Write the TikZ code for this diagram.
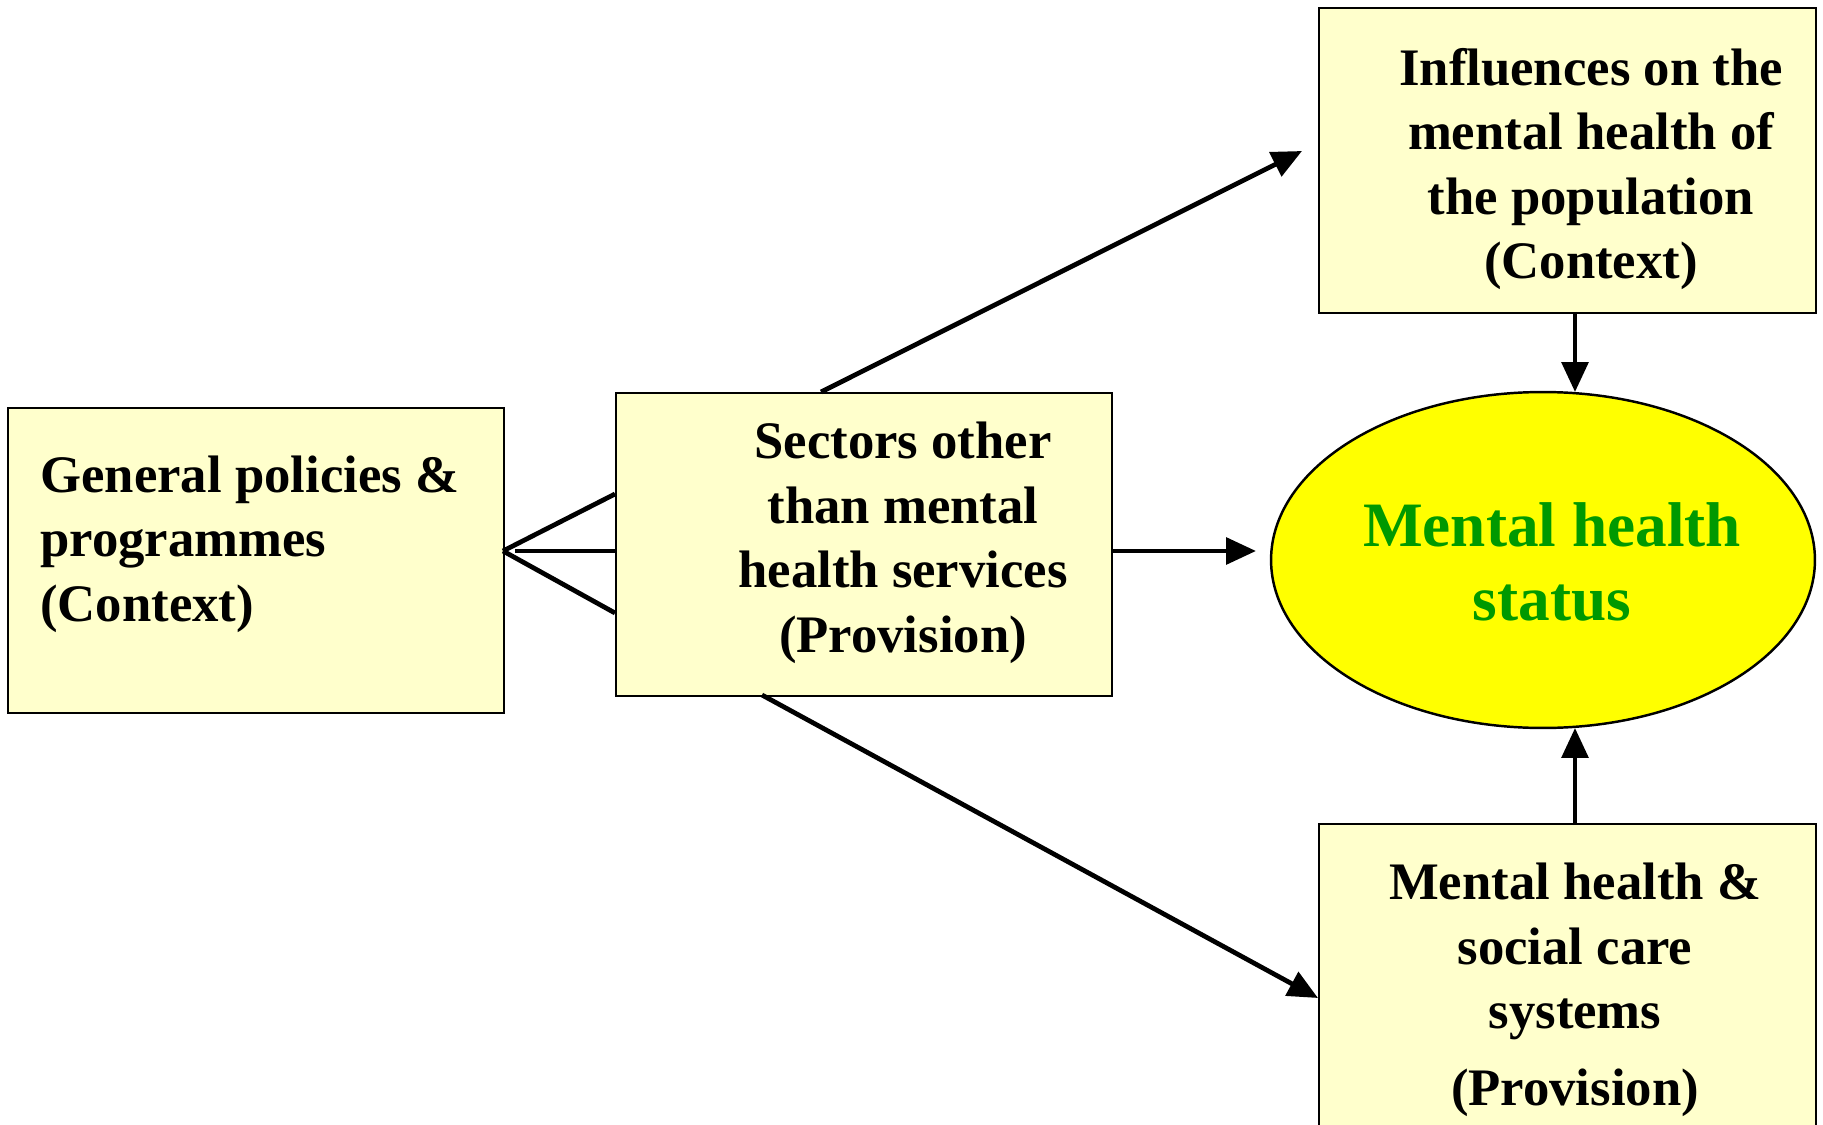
\documentclass[tikz,border=0pt]{standalone}
\usepackage{fontspec}
\setmainfont{Liberation Serif}
\usetikzlibrary{arrows.meta,shapes.geometric}
\definecolor{boxfill}{HTML}{FFFFCC}
\definecolor{ellfill}{HTML}{FFFF00}
\definecolor{mhgreen}{HTML}{009900}
\begin{document}
\begin{tikzpicture}[x=0.02cm,y=-0.02cm,
  box/.style={draw,line width=1.4pt,fill=boxfill,rectangle,anchor=north west,inner sep=0pt},
  txt/.style={font=\fontsize{30}{36.7}\selectfont\bfseries,inner sep=0pt},
  conn/.style={line width=2.7pt},
  arr/.style={line width=2.7pt,-{Triangle[length=17pt,width=15pt]}}
]
\clip (0,0) rectangle (1823,1125);
\useasboundingbox (0,0) rectangle (1823,1125);
\fill[white] (0,0) rectangle (1823,1125);

% boxes
\node[box,minimum width=9.92cm,minimum height=6.1cm] (gp) at (7,407) {};
\node[box,minimum width=9.92cm,minimum height=6.06cm] (sec) at (615,392) {};
\node[box,minimum width=9.94cm,minimum height=6.1cm] (inf) at (1318,7) {};
\node[box,minimum width=9.94cm,minimum height=6.8cm] (mhs) at (1318,823) {};
\node[draw,line width=1.4pt,fill=ellfill,ellipse,minimum width=10.88cm,minimum height=6.72cm,inner sep=0pt] (ell) at (1543,560) {};

% texts
\node[txt,align=left,anchor=west] (gpt) at (40,544) {General policies \&\\programmes\\(Context)};
\node[txt,align=center] (sect) at (903,543) {Sectors other\\than mental\\health services\\(Provision)};
\node[txt,align=center] (inft) at (1591,169) {Influences on the\\mental health of\\the population\\(Context)};
\node[txt,align=center] (mhst) at (1575,990) {Mental health \&\\social care\\systems\\[7pt](Provision)};
\node[font=\fontsize{36}{42}\selectfont\bfseries,text=mhgreen,align=center,inner sep=0pt] (ellt) at (1552,562) {Mental health\\status};

% connector points
\coordinate (fork) at (503,551);
\coordinate (forkm) at (515,551);
\coordinate (s1) at (615,494);
\coordinate (s2) at (615,551);
\coordinate (s3) at (615,613);
\coordinate (secT) at (821,392);
\coordinate (secB) at (762,695);
\coordinate (secR) at (1111,551);
\coordinate (infTip) at (1302,151);
\coordinate (mhsTip) at (1318,998);
\coordinate (ellL) at (1256,551);
\coordinate (infB) at (1575,312);
\coordinate (ellT) at (1575,392);
\coordinate (mhsT) at (1575,825);
\coordinate (ellB) at (1575,728);

\draw[conn] (fork) -- (s1);
\draw[conn] (forkm) -- (s2);
\draw[conn] (fork) -- (s3);
\draw[arr] (secT) -- (infTip);
\draw[arr] (secB) -- (mhsTip);
\draw[arr] (secR) -- (ellL);
\draw[arr] (infB) -- (ellT);
\draw[arr] (mhsT) -- (ellB);
\end{tikzpicture}
\end{document}
